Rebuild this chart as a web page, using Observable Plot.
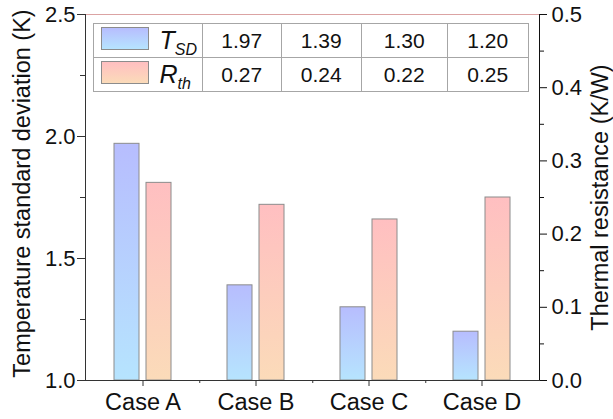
<!DOCTYPE html>
<html><head><meta charset="utf-8">
<script src="https://cdn.jsdelivr.net/npm/d3@7"></script>
<script src="https://cdn.jsdelivr.net/npm/@observablehq/plot@0.6"></script>
<style>
body{margin:0;background:#fff;}
#wrap{position:relative;width:613px;height:419px;font-family:"Liberation Sans",Arial,sans-serif;color:#111;}
#tbl{position:absolute;left:92.5px;top:22.5px;width:436px;border-collapse:collapse;table-layout:fixed;border:1px solid #a6a6a6;}
#tbl td{border:1px solid #a6a6a6;height:33px;padding:0;text-align:center;font-size:21px;line-height:33px;}
#tbl td.k{position:relative;}
.sw{position:absolute;left:7px;top:3px;width:48px;height:23px;border:1px solid #8c8c8c;box-sizing:border-box;}
.sym{position:absolute;left:66px;top:0;font-size:25px;font-style:italic;line-height:33px;}
.sym sub{font-size:16px;vertical-align:-6px;line-height:0;}
</style></head><body><div id="wrap"></div>
<script>
// ---- data ----
const cases = ["Case A", "Case B", "Case C", "Case D"];
const tsd = [1.97, 1.39, 1.30, 1.20];
const rth = [0.27, 0.24, 0.22, 0.25];
const tsdDomain = [1.0, 2.5];
const rthDomain = [0.0, 0.5];
const leftTicks = [1.0, 1.5, 2.0, 2.5];
const leftMinor = [1.25, 1.75, 2.25];
const rightTicks = [0.0, 0.1, 0.2, 0.3, 0.4, 0.5];
const rightMinor = [0.05, 0.15, 0.25, 0.35, 0.45];
const leftLabel = "Temperature standard deviation (K)";
const rightLabel = "Thermal resistance (K/W)";
const blueColors = ["#b7bdfe", "#b6e4fe"];
const redColors = ["#ffbfc1", "#fbdbb9"];

// map right-axis values onto the left scale
const toLeft = v => tsdDomain[0] + (v - rthDomain[0]) * (tsdDomain[1] - tsdDomain[0]) / (rthDomain[1] - rthDomain[0]);
const fromLeft = v => rthDomain[0] + (v - tsdDomain[0]) * (rthDomain[1] - rthDomain[0]) / (tsdDomain[1] - tsdDomain[0]);
const data = cases.map((c, i) => ({case: c, tsd: tsd[i], rth: rth[i], rthL: toLeft(rth[i])}));

const W = 613, H = 419, mL = 85, mR = 74, mT = 14, mB = 39;
const band = (W - mL - mR) / cases.length;
const font = "'Liberation Sans', Arial, sans-serif";
const blank = () => "";

const svg = Plot.plot({
  width: W, height: H,
  marginLeft: mL, marginRight: mR, marginTop: mT, marginBottom: mB,
  style: {fontFamily: font, fontSize: "22px", background: "#fff", color: "#111", overflow: "visible"},
  x: {domain: cases, padding: 0},
  y: {domain: tsdDomain},
  marks: [
    Plot.barY(data, {x: "case", y1: tsdDomain[0], y2: "tsd", insetLeft: 28, insetRight: 60, fill: "url(#gBlue)", stroke: "#8c8c8c", strokeWidth: 1}),
    Plot.barY(data, {x: "case", y1: tsdDomain[0], y2: "rthL", insetLeft: 60, insetRight: 28, fill: "url(#gRed)", stroke: "#8c8c8c", strokeWidth: 1}),
    Plot.frame({anchor: "top", stroke: "#dba3a3", strokeOpacity: 1}),
    Plot.frame({anchor: "left", stroke: "#333", strokeOpacity: 1}),
    Plot.frame({anchor: "right", stroke: "#111", strokeOpacity: 1}),
    Plot.frame({anchor: "bottom", stroke: "#333", strokeOpacity: 1}),
    Plot.axisY({anchor: "left", ticks: leftTicks, tickSize: 8, tickPadding: 2, tickFormat: d3.format(".1f"), label: null, fontSize: 22, stroke: "#333"}),
    Plot.axisY({anchor: "left", ticks: leftMinor, tickSize: 5, tickFormat: blank, label: null, stroke: "#333"}),
    Plot.axisY({anchor: "right", ticks: rightTicks.map(toLeft), tickSize: 7, tickPadding: 5, tickFormat: d => d3.format(".1f")(fromLeft(d)), label: null, fontSize: 22, stroke: "#111"}),
    Plot.axisY({anchor: "right", ticks: rightMinor.map(toLeft), tickSize: 4, tickFormat: blank, label: null, stroke: "#111"}),
    Plot.axisX({anchor: "bottom", ticks: cases, tickSize: 6, tickPadding: 7, label: null, fontSize: 23.5, stroke: "#333"}),
    Plot.axisX({anchor: "bottom", ticks: cases.slice(0, -1), tickSize: 3, dx: band / 2, tickFormat: blank, label: null, stroke: "#333"}),
    Plot.text([leftLabel], {text: d => d, frameAnchor: "left", textAnchor: "middle", lineAnchor: "middle", rotate: -90, dx: -63, dy: -4, fontSize: 23.5}),
    Plot.text([rightLabel], {text: d => d, frameAnchor: "right", textAnchor: "middle", lineAnchor: "middle", rotate: -90, dx: 61, dy: 0, fontSize: 23.5})
  ]
});

// gradients
const defs = d3.select(svg).insert("defs", ":first-child");
function grad(id, cols) {
  const g = defs.append("linearGradient").attr("id", id).attr("x1", 0).attr("y1", 0).attr("x2", 0).attr("y2", 1);
  g.append("stop").attr("offset", "0%").attr("stop-color", cols[0]);
  g.append("stop").attr("offset", "100%").attr("stop-color", cols[1]);
}
grad("gBlue", blueColors);
grad("gRed", redColors);

const wrap = document.getElementById("wrap");
wrap.appendChild(svg);

// table
const colW = [109.5, 78.5, 80.5, 85.5, 81.5];
const tbl = document.createElement("table");
tbl.id = "tbl";
const cg = document.createElement("colgroup");
colW.forEach(w => { const c = document.createElement("col"); c.style.width = w + "px"; cg.appendChild(c); });
tbl.appendChild(cg);
const rows = [
  {sym: "T", sub: "SD", cols: blueColors, vals: tsd},
  {sym: "R", sub: "th", cols: redColors, vals: rth}
];
rows.forEach(r => {
  const tr = document.createElement("tr");
  const k = document.createElement("td");
  k.className = "k";
  const sw = document.createElement("span");
  sw.className = "sw";
  sw.style.background = `linear-gradient(to bottom, ${r.cols[0]}, ${r.cols[1]})`;
  k.appendChild(sw);
  const sy = document.createElement("span");
  sy.className = "sym";
  sy.innerHTML = `${r.sym}<sub>${r.sub}</sub>`;
  k.appendChild(sy);
  tr.appendChild(k);
  r.vals.forEach(v => {
    const td = document.createElement("td");
    td.textContent = v.toFixed(2);
    tr.appendChild(td);
  });
  tbl.appendChild(tr);
});
wrap.appendChild(tbl);
</script></body></html>
